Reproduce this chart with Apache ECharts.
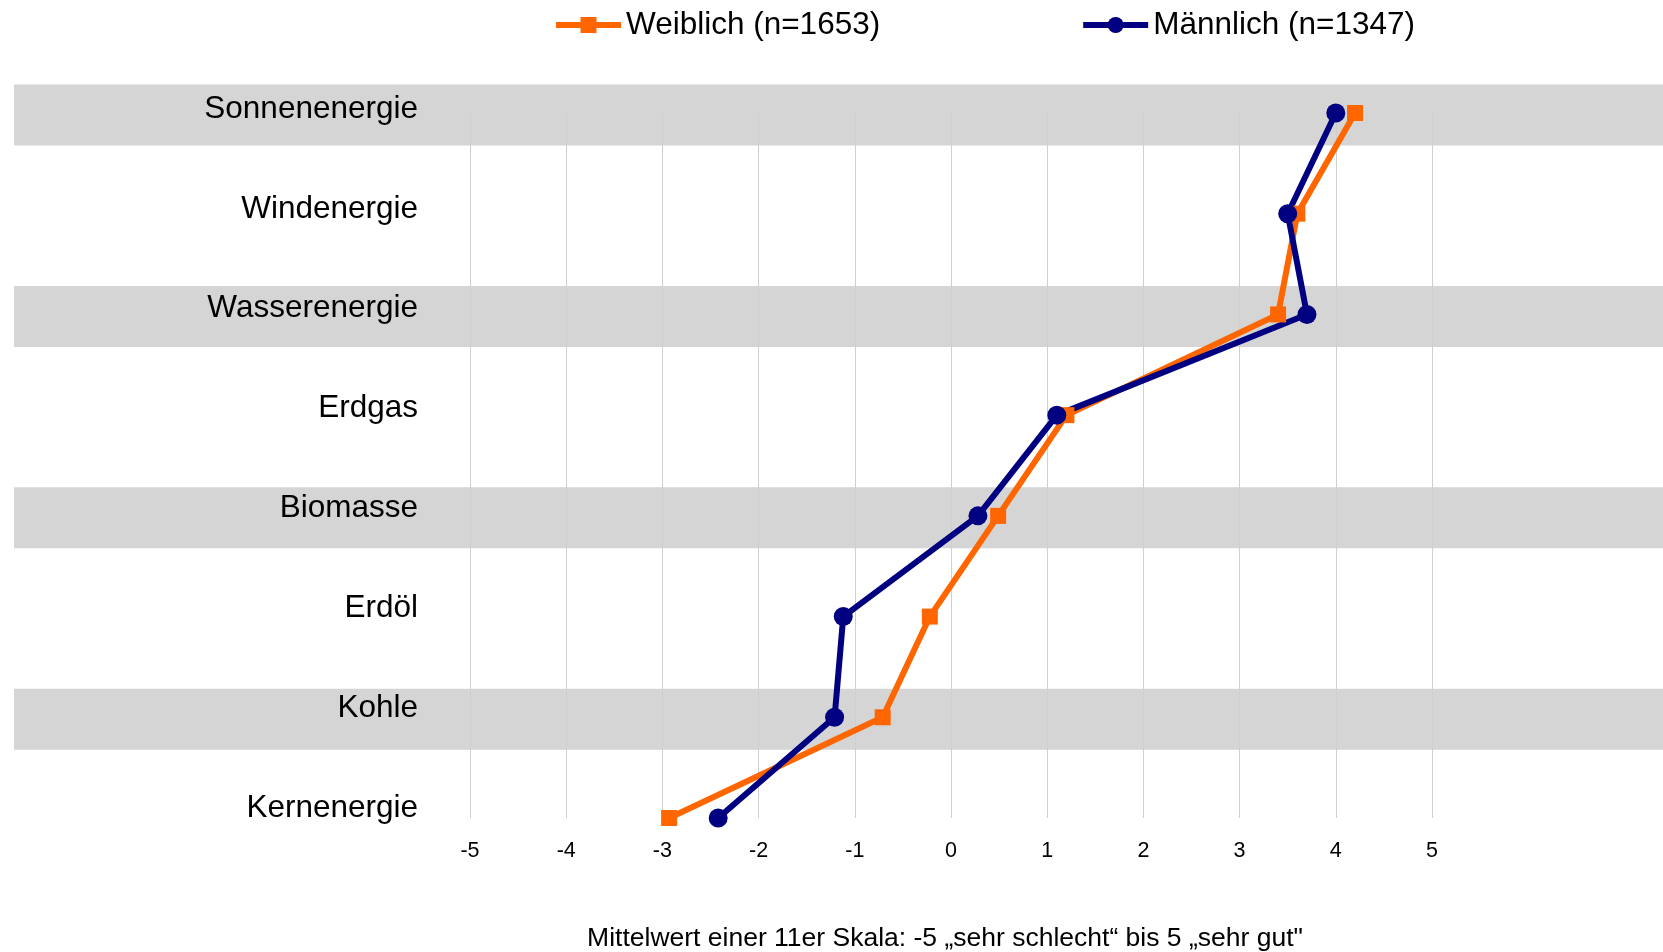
<!DOCTYPE html>
<html>
<head>
<meta charset="utf-8">
<style>
    html, body {margin:0;padding:0;background:#fff;}
    #chart {width:1663px;height:952px;}
</style>
<script src="https://cdn.jsdelivr.net/npm/echarts@6/dist/echarts.min.js"></script>
</head>
<body>
<div id="chart"></div>
<script>
    // Kategorien von oben nach unten
    var categories = ['Sonnenenergie', 'Windenergie', 'Wasserenergie', 'Erdgas', 'Biomasse', 'Erdöl', 'Kohle', 'Kernenergie'];
    var weiblich = [4.2, 3.6, 3.4, 1.2, 0.49, -0.22, -0.71, -2.93];
    var maennlich = [4.0, 3.5, 3.7, 1.1, 0.28, -1.12, -1.21, -2.42];
    // graue Streifen hinter jeder zweiten Zeile
    var bands = [1, '-', 1, '-', 1, '-', 1, '-'];
    var seriesNames = ['Weiblich (n=1653)', 'Männlich (n=1347)'];
    var axisTitle = 'Mittelwert einer 11er Skala: -5 \u201Esehr schlecht\u201C bis 5 \u201Esehr gut"';

    var font = "'Liberation Sans', Arial, sans-serif";
    var dom = document.getElementById('chart');
    var chart = echarts.init(dom);

    var plotTop = 113, plotBottom = 134;
    var rowH = (dom.clientHeight - plotTop - plotBottom) / (categories.length - 1);
    var bandShift = 2;

    var option = {
        backgroundColor: '#fff',
        textStyle: {fontFamily: font},
        animation: false,
        legend: {
            left: 548,
            top: 4,
            itemWidth: 65,
            itemHeight: 20,
            itemGap: 200,
            data: seriesNames,
            lineStyle: {width: 6},
            textStyle: {fontSize: 31.5, color: '#000', fontFamily: font}
        },
        grid: [
            // Diagramm
            {left: 470, right: 231, top: plotTop, bottom: plotBottom, outerBoundsMode: 'none'},
            // Streifen
            {left: 14, right: 0, top: plotTop - rowH / 2 + bandShift, bottom: plotBottom - rowH / 2 - bandShift, outerBoundsMode: 'none'},
            // Beschriftung links (etwas enger als die Zeilen)
            {left: 470, right: 231, top: 109, bottom: 144, outerBoundsMode: 'none'}
        ],
        xAxis: [
            {
                gridIndex: 0,
                type: 'value',
                min: -5,
                max: 5,
                interval: 1,
                axisLine: {show: false},
                axisTick: {show: false},
                splitLine: {show: true, lineStyle: {color: '#cfcfcf', width: 1}},
                axisLabel: {fontSize: 21.5, color: '#000', margin: 22, fontFamily: font},
                name: axisTitle,
                nameLocation: 'middle',
                nameGap: 107,
                nameTextStyle: {fontSize: 26.5, color: '#000', fontFamily: font, padding: [0, 12, 0, 0]}
            },
            {gridIndex: 1, type: 'value', min: 0, max: 1, show: false},
            {gridIndex: 2, type: 'value', min: 0, max: 1, show: false}
        ],
        yAxis: [
            {
                gridIndex: 0,
                type: 'category',
                data: categories,
                inverse: true,
                boundaryGap: false,
                axisLine: {show: false},
                axisTick: {show: false},
                splitLine: {show: false},
                axisLabel: {show: false}
            },
            {gridIndex: 1, type: 'category', data: categories, inverse: true, show: false},
            {
                gridIndex: 2,
                type: 'category',
                data: categories,
                inverse: true,
                boundaryGap: false,
                axisLine: {show: false},
                axisTick: {show: false},
                splitLine: {show: false},
                axisLabel: {fontSize: 31.5, color: '#000', margin: 52, fontFamily: font}
            }
        ],
        series: [
            {
                type: 'bar',
                xAxisIndex: 1,
                yAxisIndex: 1,
                data: bands,
                barWidth: 61,
                silent: true,
                z: -1,
                itemStyle: {color: '#d5d5d5'}
            },
            {
                name: seriesNames[0],
                type: 'line',
                data: weiblich,
                symbol: 'rect',
                symbolSize: 16,
                lineStyle: {width: 6, color: '#ff6600'},
                itemStyle: {color: '#ff6600'}
            },
            {
                name: seriesNames[1],
                type: 'line',
                data: maennlich,
                symbol: 'circle',
                symbolSize: 19,
                lineStyle: {width: 6, color: '#000080'},
                itemStyle: {color: '#000080'}
            }
        ]
    };
    chart.setOption(option);
    window.onresize = function () {
        chart.resize();
    };
</script>
</body>
</html>
